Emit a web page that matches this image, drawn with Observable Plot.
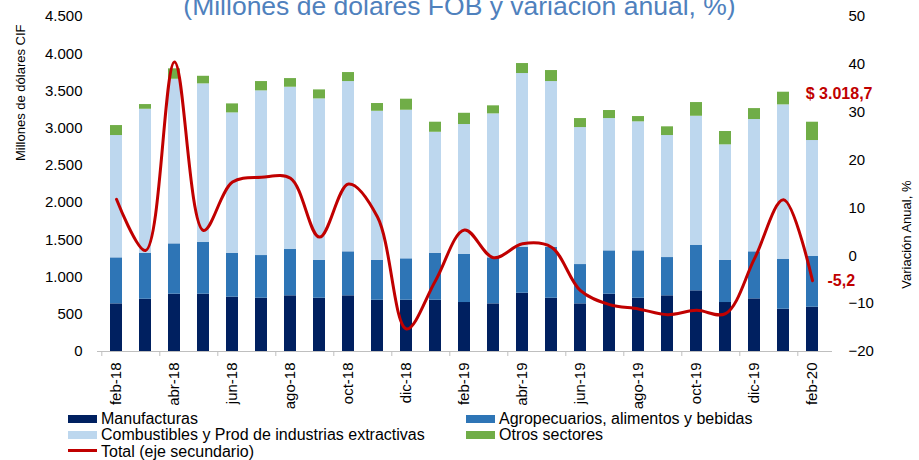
<!DOCTYPE html>
<html>
<head>
<meta charset="utf-8">
<script src="https://cdn.jsdelivr.net/npm/d3@7"></script>
<script src="https://cdn.jsdelivr.net/npm/@observablehq/plot@0.6"></script>
<style>
  html, body { margin: 0; padding: 0; background: #fff; }
  #wrap { position: relative; width: 919px; height: 460px; overflow: hidden; font-family: "Liberation Sans", Arial, sans-serif; }
  #title { position: absolute; left: 0; width: 919px; top: -7.5px; text-align: center; font-size: 26.5px; line-height: 26.5px; color: #4F81BD; white-space: nowrap; z-index: 2; }
  #chart { position: absolute; left: 0; top: 0; }
  .leg { position: absolute; font-size: 16px; line-height: 16px; color: #000; white-space: nowrap; }
  .sw { position: absolute; width: 29px; height: 8px; }
  .ln { position: absolute; width: 29px; height: 3px; background: #C00000; }
</style>
</head>
<body>
<div id="wrap">
  <div id="title">(Millones de dólares FOB y variación anual, %)</div>
  <div id="chart"></div>
  <div id="legend"></div>
</div>
<script>
const months = ["feb-18","mar-18","abr-18","may-18","jun-18","jul-18","ago-18","sep-18","oct-18","nov-18","dic-18","ene-19","feb-19","mar-19","abr-19","may-19","jun-19","jul-19","ago-19","sep-19","oct-19","nov-19","dic-19","ene-20","feb-20"];
const seriesNames = ["Manufacturas","Agropecuarios, alimentos y bebidas","Combustibles y Prod de industrias extractivas","Otros sectores"];
const seriesColors = ["#002060","#2E75B6","#BDD7EE","#70AD47"];
const manufacturas = [640,702,770,770,730,716,748,716,748,689,689,689,658,640,783,716,640,770,716,748,815,658,707,568,595];
const agropecuarios = [618,618,676,694,590,573,622,510,591,537,556,631,645,618,618,685,528,582,636,514,613,568,632,672,681];
const combustibles = [1643,1934,2211,2131,1885,2212,2180,2167,2287,2001,1996,1625,1746,1934,2333,2225,1840,1777,1733,1639,1732,1550,1777,2073,1558];
const otros = [134,63,140,102,121,125,116,121,121,104,148,135,151,108,134,148,121,108,71,117,184,179,147,170,246];
const totalVar = [11.8,1.1,40.5,5.3,15.4,16.4,16.2,3.9,15.0,8.1,-15.3,-5.2,5.4,-0.4,2.5,1.8,-7.3,-10.2,-11.1,-12.3,-11.4,-12.1,-0.6,11.7,-5.2];
const leftTicks = [0,500,1000,1500,2000,2500,3000,3500,4000,4500];
const rightTicks = [-20,-10,0,10,20,30,40,50];
const lineName = "Total (eje secundario)";
const annotTotal = "$ 3.018,7";
const annotVar = "-5,2";

const leftMax = 4500, rMin = -20, rMax = 50;
const toY = p => (p - rMin) * leftMax / (rMax - rMin);
const fromY = v => v * (rMax - rMin) / leftMax + rMin;

const values = [manufacturas, agropecuarios, combustibles, otros];
const long = [];
seriesNames.forEach((s, si) => months.forEach((m, i) => long.push({month: m, series: s, value: values[si][i]})));
const lineData = months.map((m, i) => ({month: m, v: totalVar[i]}));
const labelMonths = months.filter((d, i) => i % 2 === 0);

const fmt = d3.formatLocale({decimal: ",", thousands: ".", grouping: [3], currency: ["$", ""]}).format(",");

const W = 919, mL = 97, mR = 87;
const step = (W - mL - mR) / months.length;

const chart = Plot.plot({
  width: W, height: 405,
  marginLeft: mL, marginRight: mR, marginTop: 16, marginBottom: 54,
  style: {fontFamily: "'Liberation Sans', Arial, sans-serif", fontSize: "15px", color: "#000", background: "transparent", overflow: "visible"},
  x: {domain: months, paddingInner: 0.57, paddingOuter: 0.285, label: null},
  y: {domain: [0, leftMax], label: null},
  color: {domain: seriesNames, range: seriesColors},
  marks: [
    Plot.barY(long, {x: "month", y: "value", fill: "series"}),
    Plot.ruleY([0], {stroke: "#BFBFBF"}),
    Plot.ruleX(labelMonths, {x: d => d, y1: 0, y2: 0, insetBottom: -5, dx: -step / 2, stroke: "#BFBFBF"}),
    Plot.axisX({ticks: labelMonths, tickSize: 0, tickRotate: -90, tickPadding: 11, fontSize: 15}),
    Plot.axisY({anchor: "left", ticks: leftTicks, tickSize: 0, tickPadding: 15, tickFormat: fmt, fontSize: 15, label: null}),
    Plot.axisY(rightTicks.map(toY), {anchor: "right", tickSize: 0, tickPadding: 16, tickFormat: d => fmt(Math.round(fromY(d))), fontSize: 15, label: null}),
    Plot.line(lineData, {x: "month", y: d => toY(d.v), stroke: "#C00000", strokeWidth: 3, curve: "catmull-rom"}),
    Plot.text([lineData[lineData.length - 1]], {x: "month", y: d => toY(d.v), text: () => annotVar, dx: 15, textAnchor: "start", fill: "#C00000", fontWeight: "bold", fontSize: 16}),
    Plot.text([annotTotal], {frameAnchor: "top-right", dx: 40, dy: 71, textAnchor: "end", fill: "#C00000", fontWeight: "bold", fontSize: 16}),
    Plot.text(["Millones de dólares CIF"], {frameAnchor: "left", rotate: -90, dx: -77, dy: -23, fontSize: 13}),
    Plot.text(["Variación Anual, %"], {frameAnchor: "right", rotate: -90, dx: 74, dy: -3.5, fontSize: 13})
  ]
});
document.getElementById("chart").appendChild(chart);

// Legend
const legend = document.getElementById("legend");
const items = [
  {name: seriesNames[0], color: seriesColors[0], x: 68, row: 0},
  {name: seriesNames[1], color: seriesColors[1], x: 466, row: 0},
  {name: seriesNames[2], color: seriesColors[2], x: 68, row: 1},
  {name: seriesNames[3], color: seriesColors[3], x: 466, row: 1},
  {name: lineName, color: "#C00000", x: 68, row: 2, line: true}
];
const rowTop = [415, 431, 448];
items.forEach(it => {
  const sw = document.createElement("div");
  sw.className = it.line ? "ln" : "sw";
  sw.style.left = it.x + "px";
  sw.style.top = (it.line ? rowTop[it.row] + 1 : rowTop[it.row]) + "px";
  if (!it.line) sw.style.background = it.color;
  legend.appendChild(sw);
  const t = document.createElement("div");
  t.className = "leg";
  t.style.left = (it.x + 33) + "px";
  t.style.top = (rowTop[it.row] - 4.5) + "px";
  t.textContent = it.name;
  legend.appendChild(t);
});
</script>
</body>
</html>
